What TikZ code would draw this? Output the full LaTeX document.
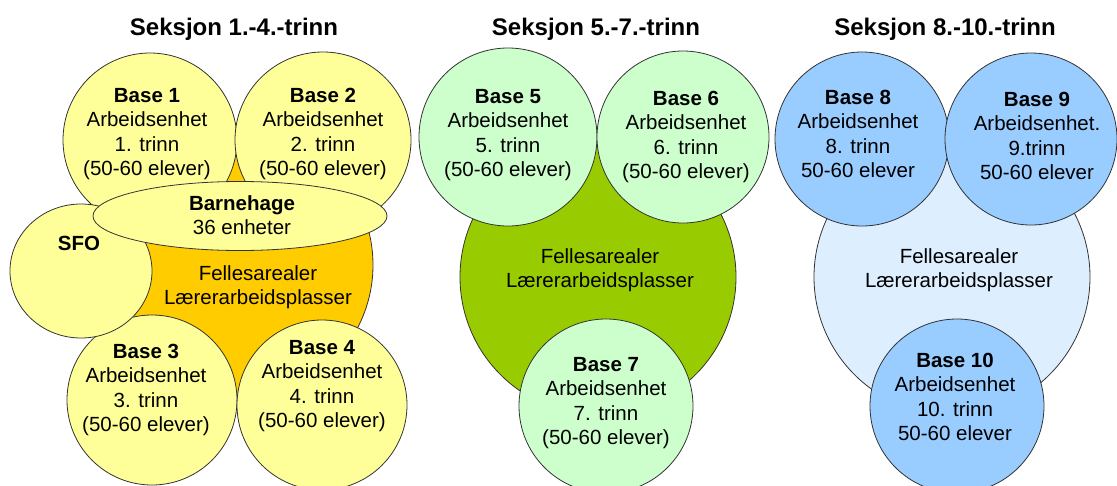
\documentclass[tikz,border=0pt]{standalone}
\usepackage{fontspec}
\setmainfont{Liberation Sans}
\usetikzlibrary{shapes.geometric}
\definecolor{cyellow}{HTML}{FFFF99}
\definecolor{corange}{HTML}{FFCC00}
\definecolor{clgreen}{HTML}{CCFFCC}
\definecolor{cdgreen}{HTML}{99CC00}
\definecolor{cblue}{HTML}{99CCFF}
\definecolor{clblue}{HTML}{DDEEFF}
\definecolor{cline}{HTML}{333333}
\tikzset{
  disc/.style={circle, draw=cline, line width=0.8pt, inner sep=0pt, minimum size=#1},
  oval/.style={ellipse, draw=cline, line width=0.8pt, inner sep=0pt},
  txt/.style={align=center, inner sep=0pt, font=\fontsize{20.5}{24.5}\selectfont},
  ttl/.style={inner sep=0pt, font=\fontsize{24}{28}\selectfont\bfseries}
}
\begin{document}
\begin{tikzpicture}[x=1pt,y=-1pt]
\useasboundingbox (0,0) rectangle (1117,485);
% Section 1
\node[ttl] (t1) at (234,29) {Seksjon 1.-4.-trinn};
\node[disc=270pt, fill=corange] (f1) at (238,265) {};
\node[disc=174pt, fill=cyellow] (b1) at (150,140) {};
\node[disc=176pt, fill=cyellow] (b2) at (323,140) {};
\node[disc=170pt, fill=cyellow] (b3) at (152,400) {};
\node[disc=170pt, fill=cyellow] (b4) at (322,405) {};
\node[oval, fill=cyellow, minimum width=142pt, minimum height=134pt] (sfo) at (81,271) {};
\node[oval, fill=cyellow, minimum width=294pt, minimum height=69pt] (bh) at (240,216) {};
\node[txt] (b1t) at (147,134) {\textbf{Base 1}\\Arbeidsenhet\\1. trinn\\(50-60 elever)};
\node[txt] (b2t) at (323,134) {\textbf{Base 2}\\Arbeidsenhet\\2. trinn\\(50-60 elever)};
\node[txt] (b3t) at (146,390) {\textbf{Base 3}\\Arbeidsenhet\\3. trinn\\(50-60 elever)};
\node[txt] (b4t) at (322,386) {\textbf{Base 4}\\Arbeidsenhet\\4. trinn\\(50-60 elever)};
\node[txt] (sfot) at (79,243) {\textbf{SFO}};
\node[txt] (bht) at (242,215) {\textbf{Barnehage}\\36 enheter};
\node[txt] (f1t) at (258,287) {Fellesarealer\\Lærerarbeidsplasser};
% Section 2
\node[ttl] (t2) at (596,29) {Seksjon 5.-7.-trinn};
\node[disc=276pt, fill=cdgreen] (f2) at (598,277) {};
\node[disc=178pt, fill=clgreen] (b5) at (508,137) {};
\node[disc=172pt, fill=clgreen] (b6) at (683,137) {};
\node[disc=174pt, fill=clgreen] (b7) at (606,406) {};
\node[txt] (b5t) at (508,135) {\textbf{Base 5}\\Arbeidsenhet\\5. trinn\\(50-60 elever)};
\node[txt] (b6t) at (686,137) {\textbf{Base 6}\\Arbeidsenhet\\6. trinn\\(50-60 elever)};
\node[txt] (b7t) at (606,403) {\textbf{Base 7}\\Arbeidsenhet\\7. trinn\\(50-60 elever)};
\node[txt] (f2t) at (600,270) {Fellesarealer\\Lærerarbeidsplasser};
% Section 3
\node[ttl] (t3) at (945,29) {Seksjon 8.-10.-trinn};
\node[disc=276pt, fill=clblue] (f3) at (952,277) {};
\node[disc=174pt, fill=cblue] (b8) at (862,139) {};
\node[disc=172pt, fill=cblue] (b9) at (1031,139) {};
\node[disc=174pt, fill=cblue] (b10) at (957,406) {};
\node[txt] (b8t) at (858,134) {\textbf{Base 8}\\Arbeidsenhet\\8. trinn\\50-60 elever};
\node[txt] (b9t) at (1037,136) {\textbf{Base 9}\\Arbeidsenhet.\\9.trinn\\50-60 elever};
\node[txt] (b10t) at (955,397) {\textbf{Base 10}\\Arbeidsenhet\\10. trinn\\50-60 elever};
\node[txt] (f3t) at (959,270) {Fellesarealer\\Lærerarbeidsplasser};
\end{tikzpicture}
\end{document}
